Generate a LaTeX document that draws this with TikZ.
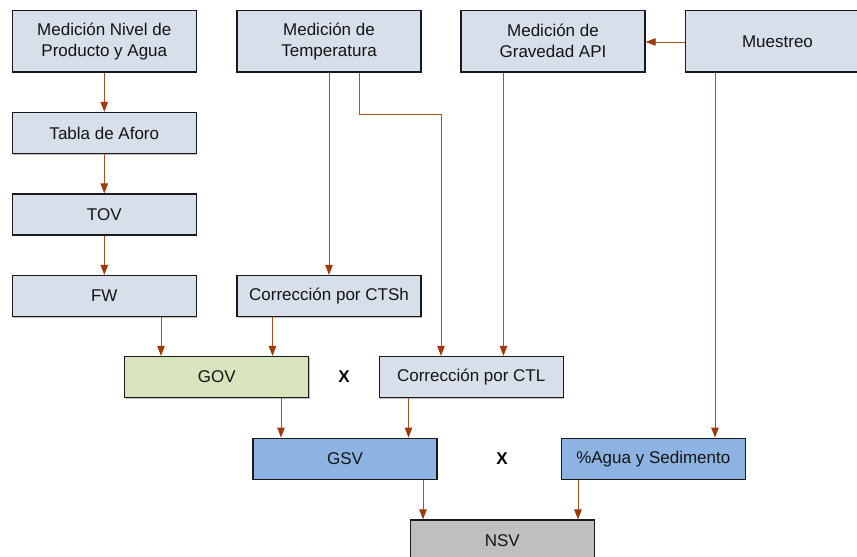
\documentclass[tikz,border=0pt]{standalone}
\usepackage{fontspec}
\setmainfont{Liberation Sans}
\usetikzlibrary{arrows.meta,shadows}

\definecolor{boxgray}{HTML}{D6DFEA}
\definecolor{govgreen}{HTML}{D7E4BD}
\definecolor{gsvblue}{HTML}{8DB3E2}
\definecolor{nsvgray}{HTML}{BFBFBF}
\definecolor{flow}{HTML}{B0501E}
\definecolor{tipcol}{HTML}{9E3A0A}
\definecolor{edge}{HTML}{1A1A1A}

\begin{document}
\begin{tikzpicture}[x=1pt,y=-1pt,
  stepbox/.style={draw=edge, line width=1.3pt, fill=boxgray,
    minimum width=184pt, minimum height=41pt, inner sep=0pt,
    align=center, text=black!92, font=\fontsize{17}{21}\selectfont,
    drop shadow={shadow xshift=1pt, shadow yshift=-1pt, fill=black, opacity=0.25}},
  tall/.style={minimum height=61.5pt},
  flowline/.style={draw=flow, line width=1pt,
    -{Triangle[length=10pt,width=7.5pt,color=tipcol]}},
  times/.style={font=\bfseries\fontsize{17}{21}\selectfont, text=black}
]
\useasboundingbox (0,0) rectangle (857,557);

% measurement sources
\node[stepbox, tall] (niv)  at (104.3,41.3) {Medición Nivel de\\Producto y Agua};
\node[stepbox, tall] (temp) at (329,41.3)   {Medición de\\Temperatura};
\node[stepbox, tall] (api)  at (553,41.3)   {Medición de\\Gravedad API};
\node[stepbox, tall] (mue)  at (777.5,41.3) {Muestreo};

% level chain
\node[stepbox] (tabla) at (104.3,133)   {Tabla de Aforo};
\node[stepbox] (tov)   at (104.3,214.5) {TOV};
\node[stepbox] (fw)    at (104.3,296)   {FW};
\node[stepbox] (ctsh)  at (329,296)     {Corrección por CTSh};

% volumes and corrections
\node[stepbox, fill=govgreen] (gov) at (216.7,377) {GOV};
\node[times] (x1) at (344,377) {X};
\node[stepbox] (ctl) at (471.2,377) {Corrección por CTL};

\node[stepbox, fill=gsvblue] (gsv)  at (345,458.7)   {GSV};
\node[times] (x2) at (502,458.7) {X};
\node[stepbox, fill=gsvblue] (agua) at (653.3,458.7) {\%Agua y Sedimento};

\node[stepbox, fill=nsvgray] (nsv) at (502.3,540.5) {NSV};

% connectors
\draw[flowline] (niv) -- (tabla);
\draw[flowline] (tabla) -- (tov);
\draw[flowline] (tov) -- (fw);
\draw[flowline] (fw.south -| 161,0) -- (gov.north -| 161,0);
\draw[flowline] (ctsh.south -| 272.5,0) -- (gov.north -| 272.5,0);
\draw[flowline] (temp) -- (ctsh);
\coordinate (bend) at (441,114);
\draw[flowline] (temp.south -| 359,0) |- (bend) -- (ctl.north -| bend);
\draw[flowline] (api.south -| 503.5,0) -- (ctl.north -| 503.5,0);
\draw[flowline] (mue.west |- 0,42) -- (api.east |- 0,42);
\draw[flowline] (mue.south -| 715,0) -- (agua.north -| 715,0);
\draw[flowline] (gov.south -| 281,0) -- (gsv.north -| 281,0);
\draw[flowline] (ctl.south -| 408.5,0) -- (gsv.north -| 408.5,0);
\draw[flowline] (gsv.south -| 423,0) -- (nsv.north -| 423,0);
\draw[flowline] (agua.south -| 578,0) -- (nsv.north -| 578,0);
\end{tikzpicture}
\end{document}
